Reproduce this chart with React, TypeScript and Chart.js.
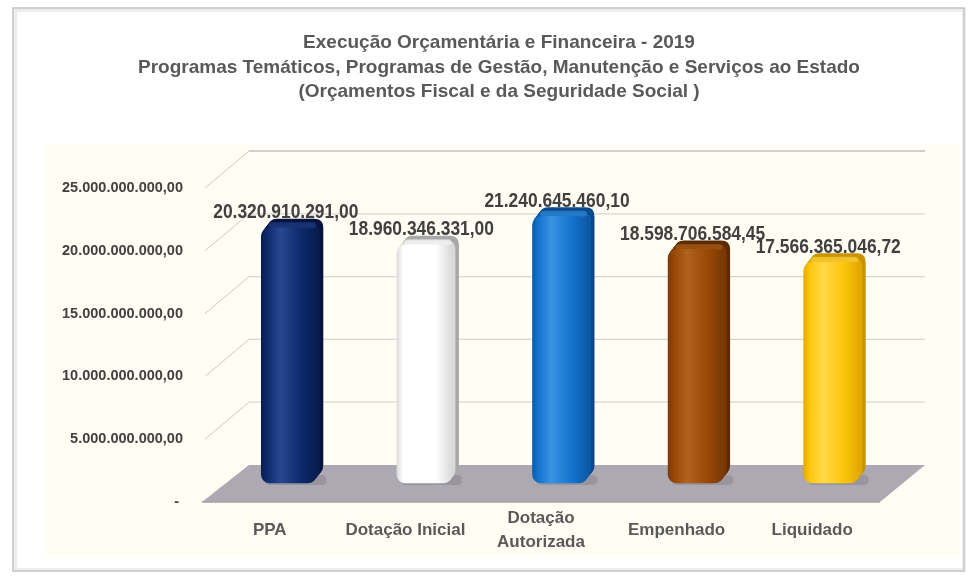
import React, { useEffect, useRef } from 'react';
import { Chart, registerables } from 'chart.js';

Chart.register(...registerables);

const titleLines = [
  'Execução Orçamentária e Financeira - 2019',
  'Programas Temáticos, Programas de Gestão, Manutenção e Serviços ao Estado',
  '(Orçamentos Fiscal e da Seguridade Social )',
];
const categories: (string | string[])[] = ['PPA', 'Dotação Inicial', ['Dotação', 'Autorizada'], 'Empenhado', 'Liquidado'];
const values = [20320910291.0, 18960346331.0, 21240645460.1, 18598706584.45, 17566365046.72];
const yMin = 0;
const yMax = 25000000000;
const yStep = 5000000000;

const frontColors = ['#0E2B6E', '#FFFFFF', '#1474CF', '#9A4907', '#FFC70C'];
const lightColors = ['#27478F', '#FFFFFF', '#3A92E2', '#B0621E', '#FFD949'];
const darkColors = ['#081D4E', '#D9D9D9', '#0C5AA6', '#7A3905', '#E3A900'];
const sideColors = ['#051540', '#A8A8A8', '#0A4A8C', '#5F2B03', '#C99400'];

const FONT = '"Liberation Sans", Arial, sans-serif';
const BAR_DX = 19;
const BAR_DY = -19;
const EXT_DX = 7;
const EXT_DY = -9;
const WALL_DX = 47;
const WALL_DX_R = 45;
const WALL_DY = -37;

function fmt(v: number): string {
  const [ip, dp] = v.toFixed(2).split('.');
  return ip.replace(/\B(?=(\d{3})+(?!\d))/g, '.') + ',' + dp;
}

function rr(ctx: CanvasRenderingContext2D, x: number, y: number, w: number, h: number, r: number) {
  ctx.beginPath();
  ctx.moveTo(x + r, y);
  ctx.lineTo(x + w - r, y);
  ctx.quadraticCurveTo(x + w, y, x + w, y + r);
  ctx.lineTo(x + w, y + h - r);
  ctx.quadraticCurveTo(x + w, y + h, x + w - r, y + h);
  ctx.lineTo(x + r, y + h);
  ctx.quadraticCurveTo(x, y + h, x, y + h - r);
  ctx.lineTo(x, y + r);
  ctx.quadraticCurveTo(x, y, x + r, y);
  ctx.closePath();
}

const scenePlugin = {
  id: 'scene3d',
  beforeDraw(chart: any) {
    const ctx: CanvasRenderingContext2D = chart.ctx;
    ctx.save();
    ctx.fillStyle = '#FFFFFF';
    ctx.fillRect(0, 0, chart.width, chart.height);
    // outer frame
    ctx.strokeStyle = '#EDEDED';
    ctx.lineWidth = 4;
    ctx.strokeRect(15, 10, 949, 560);
    ctx.strokeStyle = '#C4C4C4';
    ctx.lineWidth = 1.5;
    ctx.strokeRect(13, 8, 951, 563);
    // plot background
    ctx.fillStyle = '#FFFDF4';
    ctx.fillRect(45, 145, 915, 411);
    // title
    ctx.fillStyle = '#595959';
    ctx.font = 'bold 19px ' + FONT;
    ctx.textAlign = 'center';
    ctx.textBaseline = 'middle';
    titleLines.forEach((t, i) => ctx.fillText(t, 499, 43 + i * 24.5));
    ctx.restore();
  },
  beforeDatasetsDraw(chart: any) {
    const ctx: CanvasRenderingContext2D = chart.ctx;
    const ys = chart.scales.y;
    const { left, right } = chart.chartArea;
    ctx.save();
    // walls / gridlines
    ys.ticks.forEach((t: any) => {
      if (t.value === 0) return;
      const yf = ys.getPixelForValue(t.value);
      ctx.strokeStyle = '#CACACA';
      ctx.lineWidth = 1;
      ctx.beginPath();
      ctx.moveTo(left + 3, yf);
      ctx.lineTo(left + WALL_DX, yf + WALL_DY);
      ctx.stroke();
      ctx.strokeStyle = t.value === yMax ? '#CFCFCF' : '#D6D6D6';
      ctx.lineWidth = t.value === yMax ? 2 : 1.2;
      ctx.beginPath();
      ctx.moveTo(left + WALL_DX, yf + WALL_DY);
      ctx.lineTo(right + WALL_DX_R, yf + WALL_DY);
      ctx.stroke();
    });
    // floor
    const y0 = ys.getPixelForValue(0);
    ctx.fillStyle = '#ACA9B2';
    ctx.beginPath();
    ctx.moveTo(left, y0);
    ctx.lineTo(right, y0);
    ctx.lineTo(right + WALL_DX_R, y0 + WALL_DY);
    ctx.lineTo(left + WALL_DX, y0 + WALL_DY);
    ctx.closePath();
    ctx.fill();
    ctx.strokeStyle = '#A2A2A2';
    ctx.lineWidth = 1.5;
    ctx.beginPath();
    ctx.moveTo(left, y0);
    ctx.lineTo(right, y0);
    ctx.stroke();
    // bar extrusions
    const meta = chart.getDatasetMeta(0);
    meta.data.forEach((el: any, i: number) => {
      const p = el.getProps(['x', 'y', 'base', 'width'], true);
      const bx = p.x - p.width / 2 + BAR_DX;
      const top = p.y + BAR_DY;
      const h = p.base - p.y;
      // shadow on floor
      ctx.fillStyle = 'rgba(90,90,100,0.25)';
      rr(ctx, bx + 4, p.base + BAR_DY - 8, p.width + 6, 10, 5);
      ctx.fill();
      const steps = 10;
      for (let s = steps; s >= 1; s--) {
        const ox = (EXT_DX * s) / steps;
        const oy = (EXT_DY * s) / steps;
        ctx.fillStyle = s > steps / 2 ? sideColors[i] : darkColors[i];
        rr(ctx, bx + ox, top + oy, p.width, h, 9);
        ctx.fill();
      }
      // top highlight cap
      ctx.fillStyle = lightColors[i];
      ctx.globalAlpha = 0.55;
      rr(ctx, bx + EXT_DX * 0.5 + 4, top + EXT_DY * 0.5 - 1, p.width - 8, 6, 3);
      ctx.fill();
      ctx.globalAlpha = 1;
    });
    ctx.restore();
    ctx.save();
    ctx.translate(BAR_DX, BAR_DY);
  },
  afterDatasetsDraw(chart: any) {
    const ctx: CanvasRenderingContext2D = chart.ctx;
    ctx.restore();
    ctx.save();
    const meta = chart.getDatasetMeta(0);
    ctx.fillStyle = '#404040';
    ctx.font = 'bold 20px ' + FONT;
    ctx.textAlign = 'center';
    ctx.textBaseline = 'middle';
    meta.data.forEach((el: any, i: number) => {
      const p = el.getProps(['x', 'y'], true);
      ctx.save();
      ctx.translate(p.x + BAR_DX - 3, p.y + BAR_DY - 15);
      ctx.scale(0.87, 1);
      ctx.fillText(fmt(values[i]), 0, 0);
      ctx.restore();
    });
    ctx.restore();
  },
};

export default function App() {
  const ref = useRef<HTMLCanvasElement | null>(null);
  useEffect(() => {
    if (!ref.current) return;
    const chart = new Chart(ref.current, {
      type: 'bar',
      data: {
        labels: categories as any,
        datasets: [
          {
            data: values,
            barThickness: 55,
            borderRadius: 9,
            borderSkipped: false,
            borderWidth: 0,
            clip: false as any,
            backgroundColor: (c: any) => {
              const i = c.dataIndex;
              if (i === undefined) return '#888888';
              const chartRef = c.chart;
              const xs = chartRef.scales && chartRef.scales.x;
              if (!xs || !chartRef.chartArea) return frontColors[i];
              const cx = xs.getPixelForValue(i);
              const g = chartRef.ctx.createLinearGradient(cx - 28, 0, cx + 28, 0);
              g.addColorStop(0, darkColors[i]);
              g.addColorStop(0.12, frontColors[i]);
              g.addColorStop(0.35, lightColors[i]);
              g.addColorStop(0.7, frontColors[i]);
              g.addColorStop(1, darkColors[i]);
              return g;
            },
          },
        ],
      },
      options: {
        responsive: false,
        animation: false,
        devicePixelRatio: 1,
        layout: { padding: { top: 188, left: 0, right: 93, bottom: 16 } },
        plugins: {
          legend: { display: false },
          title: { display: false },
          tooltip: { enabled: false },
        },
        scales: {
          x: {
            grid: { display: false, drawTicks: false },
            border: { display: false },
            ticks: {
              color: '#595959',
              font: { family: FONT, size: 17, weight: 'bold', lineHeight: 1.45 },
              padding: 16,
              crossAlign: 'center',
              maxRotation: 0,
              minRotation: 0,
              autoSkip: false,
            },
            afterFit: (s: any) => {
              s.height = 60;
            },
          },
          y: {
            min: yMin,
            max: yMax,
            grid: { display: false, drawTicks: false },
            border: { display: false },
            ticks: {
              stepSize: yStep,
              padding: 19,
              color: '#404040',
              font: { family: FONT, size: 14.5, weight: 'bold' },
              callback: (v: any) => (Number(v) === 0 ? '- ' : fmt(Number(v))),
            },
            afterFit: (s: any) => {
              s.width = 202;
            },
          },
        },
      },
      plugins: [scenePlugin],
    });
    return () => chart.destroy();
  }, []);
  return (
    <div style={{ position: 'absolute', left: 0, top: 0, width: 973, height: 578 }}>
      <canvas ref={ref} width={973} height={578} style={{ display: 'block' }} />
    </div>
  );
}
